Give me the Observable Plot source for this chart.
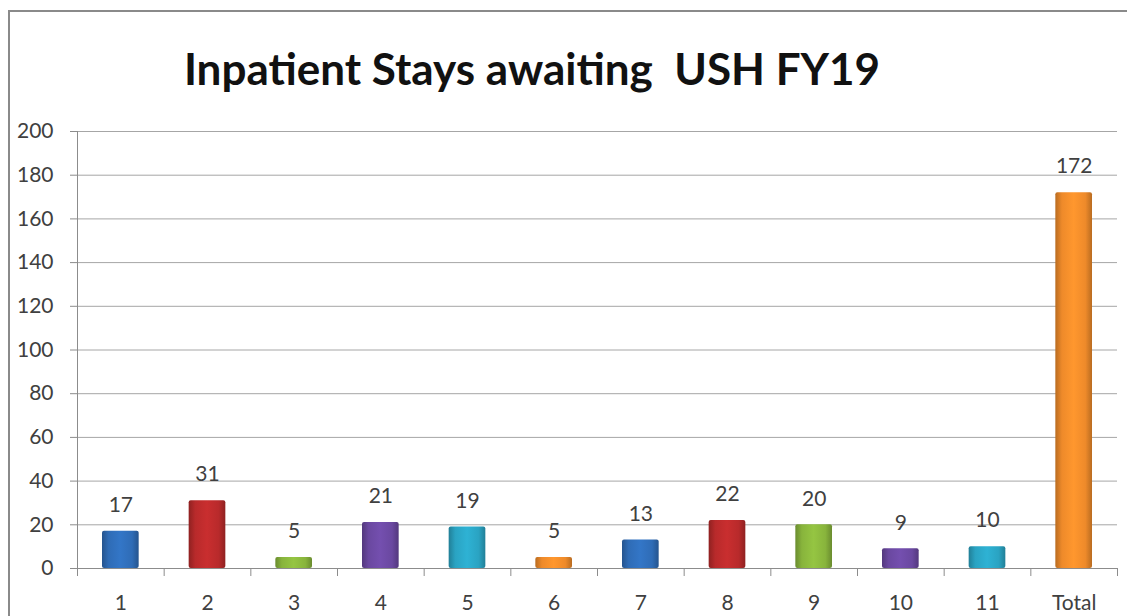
<!DOCTYPE html>
<html>
<head>
<meta charset="utf-8">
<script src="https://cdn.jsdelivr.net/npm/d3@7"></script>
<script src="https://cdn.jsdelivr.net/npm/@observablehq/plot@0.6"></script>
<style>
  html, body { margin: 0; padding: 0; background: #fff; overflow: hidden; }
  #frame { position: absolute; left: 8px; top: 10px; width: 1200px; height: 700px;
           border-left: 2px solid #8a8a8a; border-top: 2px solid #8a8a8a; }
  #title { position: absolute; left: 0; top: 42px; width: 1064px; text-align: center;
           font-family: Lato, "Open Sans", sans-serif; font-weight: bold; font-size: 44px;
           color: #111; white-space: pre; }
  #chart { position: absolute; left: 0; top: 110px; }
</style>
</head>
<body>
<div id="frame"></div>
<div id="title">Inpatient Stays awaiting  USH FY19</div>
<div id="chart"></div>
<script>
const categories = ["1", "2", "3", "4", "5", "6", "7", "8", "9", "10", "11", "Total"];
const values = [17, 31, 5, 21, 19, 5, 13, 22, 20, 9, 10, 172];
const yTicks = [0, 20, 40, 60, 80, 100, 120, 140, 160, 180, 200];
const palette = ["#2f6cb6", "#b82a2b", "#88b43c", "#6a48a0", "#2aa3c2", "#ee8a2a"];

const data = categories.map((c, i) => ({index: i, label: c, value: values[i]}));
const centers = categories.map((c, i) => i + 0.5);
const boundaries = d3.range(0, categories.length + 1);

const font = "Lato, 'Open Sans', sans-serif";

const svg = Plot.plot({
  width: 1127,
  height: 510,
  marginLeft: 77,
  marginRight: 10,
  marginTop: 21,
  marginBottom: 52,
  style: {fontFamily: font, fontSize: "21px", color: "#404040", background: "transparent", overflow: "visible"},
  x: {domain: [0, categories.length]},
  y: {domain: [0, 200]},
  color: {type: "identity"},
  marks: [
    Plot.ruleY(yTicks, {stroke: "#a6a6a6", strokeWidth: 1}),
    Plot.axisY({ticks: yTicks, tickSize: 7, tickPadding: 17, stroke: "#8c8c8c", fill: "#404040", label: null}),
    Plot.ruleX([0], {stroke: "#8c8c8c"}),
    Plot.rectY(data, {
      x: "index", interval: 1, y: "value",
      insetLeft: 25, insetRight: 25,
      fill: d => `url(#barGrad${d.index % palette.length})`,
      rx: 2
    }),
    Plot.text(data, {
      x: d => d.index + 0.5, y: "value", text: d => String(d.value),
      dy: -26, lineAnchor: "middle", fill: "#404040", fontSize: 21
    }),
    Plot.axisX({ticks: boundaries, tickSize: 8, tickFormat: () => "", stroke: "#8c8c8c", label: null}),
    Plot.axisX({ticks: centers, tickSize: 0, tickPadding: 27, tickFormat: (d) => categories[Math.round(d - 0.5)], fill: "#404040", label: null}),
    Plot.ruleY([0], {stroke: "#8c8c8c"})
  ]
});

// gradient definitions for the glossy bar look
const ns = "http://www.w3.org/2000/svg";
const defs = document.createElementNS(ns, "defs");
palette.forEach((col, k) => {
  const g = document.createElementNS(ns, "linearGradient");
  g.setAttribute("id", "barGrad" + k);
  g.setAttribute("x1", "0"); g.setAttribute("x2", "1");
  g.setAttribute("y1", "0"); g.setAttribute("y2", "0");
  const base = d3.color(col);
  const stops = [
    [0, base.darker(0.7)],
    [0.18, base],
    [0.5, base.brighter(0.25)],
    [0.82, base],
    [1, base.darker(0.7)]
  ];
  stops.forEach(([o, c]) => {
    const s = document.createElementNS(ns, "stop");
    s.setAttribute("offset", o);
    s.setAttribute("stop-color", c.formatHex());
    g.appendChild(s);
  });
  defs.appendChild(g);
});
svg.insertBefore(defs, svg.firstChild);
document.getElementById("chart").appendChild(svg);
</script>
</body>
</html>
